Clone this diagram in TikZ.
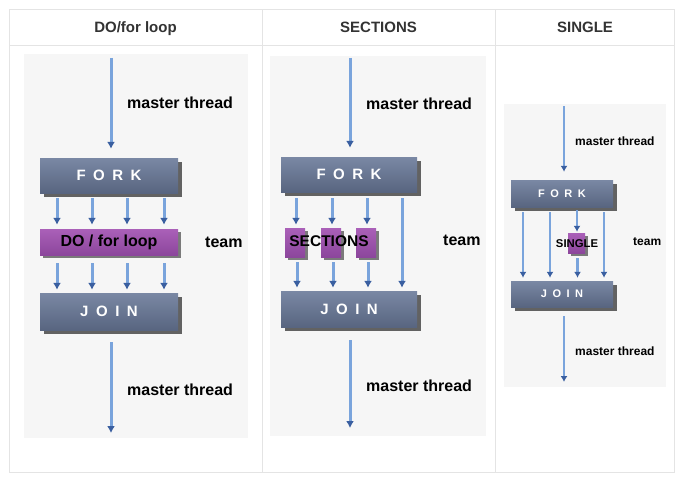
\documentclass[tikz,border=0pt]{standalone}
\usepackage{fontspec}
\setmainfont{Liberation Sans}
\usetikzlibrary{shapes,arrows.meta,shadows}
\definecolor{slatehi}{RGB}{122,136,164}
\definecolor{slatelo}{RGB}{88,101,128}
\definecolor{plumhi}{RGB}{170,96,184}
\definecolor{plumlo}{RGB}{140,70,156}
\definecolor{thread}{RGB}{122,164,220}
\definecolor{threaddark}{RGB}{58,95,160}
\definecolor{panel}{RGB}{246,246,246}
\definecolor{rulegray}{RGB}{228,228,228}
\definecolor{headgray}{RGB}{51,51,51}
\newcommand{\lgap}{\hspace{0.5em}}
\tikzstyle{block} = [rectangle, inner sep=0pt, top color=slatehi, bottom color=slatelo, text=white, font=\bfseries\fontsize{15}{17}\selectfont, drop shadow={shadow xshift=4pt, shadow yshift=-4pt, opacity=0.6, fill=black}]
\tikzstyle{work} = [rectangle, inner sep=0pt, top color=plumhi, bottom color=plumlo, drop shadow={shadow xshift=3pt, shadow yshift=-3pt, opacity=0.5, fill=black}]
\tikzstyle{thr} = [-{Latex[length=7pt,width=8pt,color=threaddark]}, draw=thread, line width=3pt]
\tikzstyle{thrs} = [-{Latex[length=6pt,width=7pt,color=threaddark]}, draw=thread, line width=2.3pt]
\tikzstyle{txt} = [anchor=west, inner sep=0pt, font=\bfseries\fontsize{16}{18}\selectfont]
\tikzstyle{txts} = [anchor=west, inner sep=0pt, font=\bfseries\fontsize{12}{14}\selectfont]
\tikzstyle{heading} = [anchor=base, text=headgray, font=\bfseries\fontsize{15}{17}\selectfont]

\begin{document}
\begin{tikzpicture}[x=1pt, y=-1pt]
	\useasboundingbox (0,0) rectangle (682,495);

	\draw[rulegray, fill=white] (9,9) rectangle (674,472);
	\draw[rulegray] (9,45) -- (674,45);
	\draw[rulegray] (262,9) -- (262,472);
	\draw[rulegray] (495,9) -- (495,472);
	\node[heading] (hdo) at (135.5,32.5) {DO/for loop};
	\node[heading] (hsec) at (378.5,32.5) {SECTIONS};
	\node[heading] (hsingle) at (585,32.5) {SINGLE};

	\fill[panel] (24,54) rectangle (248,438);
	\fill[panel] (270,56) rectangle (486,436);
	\fill[panel] (504,104) rectangle (666,387);

	% DO / for loop
	\node[block, minimum width=138pt, minimum height=35pt] (fork1) at (109,175.5) {F\lgap O\lgap R\lgap K};
	\node[work, minimum width=138pt, minimum height=26pt, font=\bfseries\fontsize{16}{18}\selectfont] (do1) at (109,242) {DO / for loop};
	\node[block, minimum width=138pt, minimum height=37pt] (join1) at (109,311.5) {J\lgap O\lgap I\lgap N};
	\coordinate (top1) at (111,58);
	\coordinate (bot1) at (111,433);
	\draw[thr, shorten >=9pt] (top1) -- ([xshift=2pt]fork1.north);
	\draw[thr, shorten <=12pt] ([xshift=2pt]join1.south) -- (bot1);
	\foreach \d in {-52,-17,18,55} {
		\draw[thr, shorten <=5pt, shorten >=4pt] ([xshift=\d pt]fork1.south) -- ([xshift=\d pt]do1.north);
		\draw[thr, shorten <=8pt, shorten >=3pt] ([xshift=\d pt]do1.south) -- ([xshift=\d pt]join1.north);
	}
	\node[txt] (mt1a) at (127,103) {master thread};
	\node[txt] (mt1b) at (127,390) {master thread};
	\node[txt] (team1) at (205,242) {team};

	% SECTIONS
	\node[block, minimum width=136pt, minimum height=35pt] (fork2) at (349,174.5) {F\lgap O\lgap R\lgap K};
	\node[block, minimum width=136pt, minimum height=36pt] (join2) at (349,309) {J\lgap O\lgap I\lgap N};
	\node[work, minimum width=20pt, minimum height=29pt] (seca) at (295,242.5) {};
	\node[work, minimum width=20pt, minimum height=29pt] (secb) at (331,242.5) {};
	\node[work, minimum width=20pt, minimum height=29pt] (secc) at (366,242.5) {};
	\node[font=\bfseries\fontsize{15.5}{17}\selectfont] (sectxt) at (329,241) {SECTIONS};
	\coordinate (top2) at (350,58);
	\coordinate (bot2) at (350,428);
	\draw[thr, shorten >=9pt] (top2) -- ([xshift=1pt]fork2.north);
	\draw[thr, shorten <=13pt] ([xshift=1pt]join2.south) -- (bot2);
	\foreach \s in {seca,secb,secc} {
		\draw[thr, shorten <=6pt, shorten >=3pt] ([xshift=1pt]fork2.south -| \s.north) -- ([xshift=1pt]\s.north);
		\draw[thr, shorten <=5pt, shorten >=3pt] ([xshift=2pt]\s.south) -- ([xshift=2pt]join2.north -| \s.south);
	}
	\draw[thr, shorten <=6pt, shorten >=3pt] ([xshift=53pt]fork2.south) -- ([xshift=53pt]join2.north);
	\node[txt] (mt2a) at (366,104) {master thread};
	\node[txt] (mt2b) at (366,386) {master thread};
	\node[txt] (team2) at (443,240) {team};

	% SINGLE
	\node[block, minimum width=102pt, minimum height=27pt, font=\bfseries\fontsize{11}{13}\selectfont] (fork3) at (562,193.5) {F\lgap O\lgap R\lgap K};
	\node[block, minimum width=102pt, minimum height=26pt, font=\bfseries\fontsize{11}{13}\selectfont] (join3) at (562,294) {J\lgap O\lgap I\lgap N};
	\node[work, minimum width=17pt, minimum height=20pt] (single) at (576.5,243) {};
	\node[font=\bfseries\fontsize{11.3}{13}\selectfont] (singletxt) at (577,244) {SINGLE};
	\coordinate (top3) at (564,106);
	\coordinate (bot3) at (564,382);
	\draw[thrs, shorten >=8pt] (top3) -- ([xshift=2pt]fork3.north);
	\draw[thrs, shorten <=9pt] ([xshift=2pt]join3.south) -- (bot3);
	\foreach \d in {-39,-12,42} {
		\draw[thrs, shorten <=5pt, shorten >=3pt] ([xshift=\d pt]fork3.south) -- ([xshift=\d pt]join3.north);
	}
	\draw[thrs, shorten <=3pt, shorten >=1pt] ([xshift=15pt]fork3.south) -- ([xshift=15pt]fork3.south |- single.north);
	\draw[thrs, shorten <=5pt, shorten >=3pt] ([xshift=1pt]single.south) -- ([xshift=1pt]single.south |- join3.north);
	\node[txts] (mt3a) at (575,141) {master thread};
	\node[txts] (mt3b) at (575,351) {master thread};
	\node[txts] (team3) at (633,242) {team};
\end{tikzpicture}
\end{document}
